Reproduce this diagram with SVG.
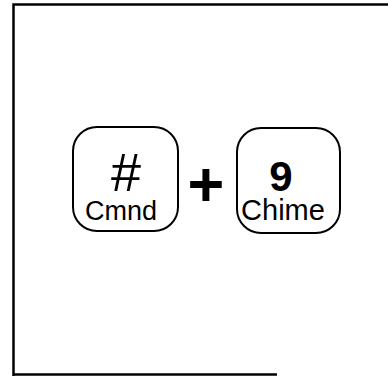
<svg xmlns="http://www.w3.org/2000/svg" width="388" height="376" viewBox="0 0 388 376">
<style>
.frame{stroke:#000;stroke-width:2.5;fill:none}
.key{fill:#fff;stroke:#000;stroke-width:2}
.lbl{font-family:"Liberation Sans",Arial,sans-serif;fill:#000;text-anchor:middle}
</style>
<rect width="388" height="376" fill="#fff"/>
<g id="frame">
<path class="frame" d="M388 4.5H13.5V376"/>
<path class="frame" d="M13.5 374.5H277"/>
</g>
<g id="key-cmnd">
<rect class="key" x="73" y="127" width="105" height="104" rx="24"/>
<text class="lbl" x="126" y="191" font-size="54">#</text>
<text class="lbl" x="121" y="220" font-size="27">Cmnd</text>
</g>
<g id="plus">
<text class="lbl" x="206" y="206" font-size="63" font-weight="bold">+</text>
</g>
<g id="key-chime">
<rect class="key" x="237" y="128" width="103" height="105" rx="24"/>
<text class="lbl" x="281" y="191" font-size="42" font-weight="bold">9</text>
<text class="lbl" x="283" y="220" font-size="29">Chime</text>
</g>
</svg>
